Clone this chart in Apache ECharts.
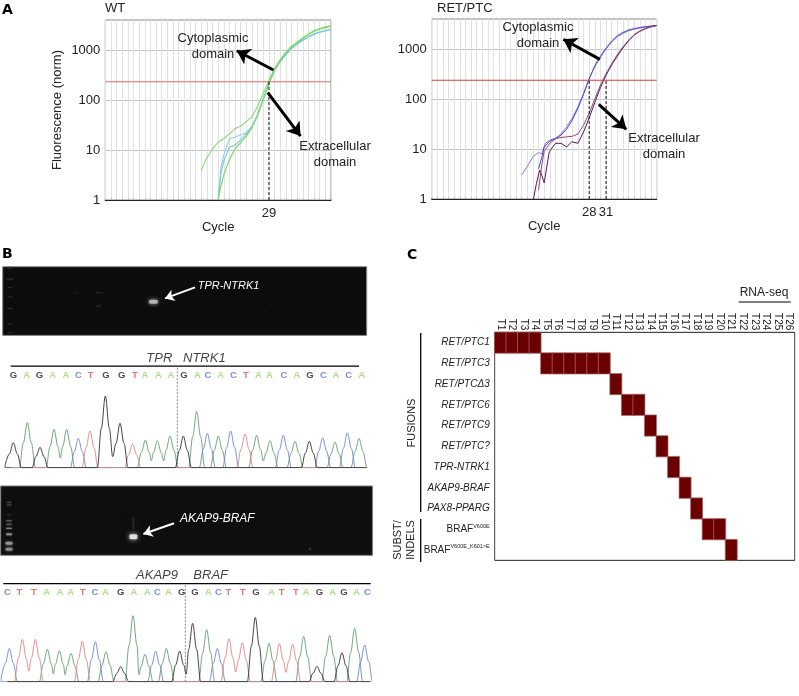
<!DOCTYPE html>
<html><head><meta charset="utf-8">
<style>html,body{margin:0;padding:0;background:#fff}#c{width:799px;height:696px}</style>
<script src="https://cdn.jsdelivr.net/npm/echarts@6/dist/echarts.min.js"></script>
</head><body><div id="c"></div>
<script>
// ---- Panel A data
const wtCyclesEarly=[17,18,19,20,21,22,23,24,25,26,27,28,29,30,31,32,33,34,35,36,37,38,39,40];
const wtGreenUpper=[3.9,7,10.5,14.3,17,21,27,30,37,46,75,135,250,420,640,900,1200,1350,1700,2100,2450,2700,2900,3050];
const wtCyclesLow=[20,20.4,21,22,23,24,25,26,27,28,29,30,31,32,33,34,35,36,37,38,39,40];
const wtGreenLower=[1,1.7,3.2,6.5,10.5,14,19,28,50,105,210,400,620,880,1150,1450,1750,2050,2350,2600,2800,3000];
const wtCyclesBlue=[20,20.5,21,22,23,24,25,26,27,28,29,30,31,32,33,34,35,36,37,38,39,40];
const wtBlueA=[1,4.5,8,17,18,20,22,30,50,100,215,390,580,800,1050,1300,1550,1800,2050,2250,2400,2550];
const wtBlueB=[1,3.5,6,11.5,12.5,16,21,29,52,105,220,400,600,830,1080,1340,1600,1850,2100,2300,2450,2600];
const wtThreshold=232, wtCt=[29];
const retCyclesA=[16,17,18,19,19.6,20.2,21,22,23,24,25,26,27,28,29,30,31,32,33,34,35,36,37,38,39,40];
const retBlueA=[3,4.5,7,8.5,8,13,15,16.5,20,28,42,70,130,260,440,680,1000,1350,1750,2050,2300,2480,2620,2750,2850,2950];
const retCyclesB=[19,19.6,20,21,22,23,24,25,26,27,28,29,30,31,32,33,34,35,36,37,38,39,40];
const retBlueB=[4,7,11,14.5,16,19,25,38,65,125,250,470,720,1050,1450,1850,2150,2400,2560,2700,2800,2880,2950];
const retCyclesC=[18.1,18.6,19.2,19.6,20,20.9,22,23,24,24.9,26,27,28,29,30,31,32,33,34,35,36,37,38,39,40];
const retPurpleA=[1,2,3.8,2.9,2.1,8.8,13,13,11,14,13,22,42,85,170,300,480,720,1050,1450,1900,2250,2550,2780,2950];
const retCyclesD=[19,19.6,20,21,22,23,24,25,26,27,28,29,30,31,32,33,34,35,36,37,38,39,40];
const retPurpleB=[1.5,5,9,13,16,17,17.5,18,20,30,52,100,190,320,510,770,1100,1500,1950,2300,2600,2800,2950];
const retThreshold=237, retCt=[28,31];
// ---- Panel B data
const gel1BandX=[30,30,30,30,30,30,30,230,297,295,815,460];
const gel1BandY=[55,88,112,140,175,222,248,128,128,168,165,155];
const gel1BandW=[6,7,6,6,6,6,6,5,8,6,6,9];
const gel1BandH=[1,1,1,1,1,1,1,1,1,2,1,4];
const gel1BandC=['#2c2c2c','#333','#2c2c2c','#2c2c2c','#303030','#2c2c2c','#282828','#1c1c1c','#2a2a2a','#222','#191919','#c8c8c8'];
const gel2BandX=[27,27,27,27,27,27,27,27,27,400,400,930];
const gel2BandY=[67,75,105,122,133,145,163,190,208,170,130,207];
const gel2BandW=[5,5,4,6,6,6,6,7,7,8,2,1];
const gel2BandH=[1,1,1,1,1,1,2,3,3,5,12,1];
const gel2BandC=['#555','#555','#333','#777','#777','#aaa','#999','#a5a5a5','#999','#ffffff','#2c2c2c','#aaa'];
const seq1=['G','A','G','A','A','C','T','G','G','T','A','A','A','G','A','C','A','C','T','A','A','C','A','G','C','A','C','A'];
const seq1LetterX=[40,80,118,158,198,235,272,318,365,405,435,475,513,552,592,624,662,700,738,775,808,852,890,930,970,1008,1046,1085];
const seq1PeakX=[40,82,120,162,200,235,270,316,360,398,436,472,510,550,590,622,655,692,735,770,810,850,885,928,968,1005,1042,1077];
const seq1PeakH=[75,136,61,115,115,88,110,215,133,71,83,81,95,95,169,103,95,110,101,97,81,97,79,79,90,77,105,88];
const seq2=['C','T','T','A','A','A','T','C','A','G','A','A','C','A','G','G','A','C','T','T','G','A','T','T','A','G','A','G','A','C'];
const seq2LetterX=[22,58,102,140,180,212,248,285,316,362,402,442,472,505,545,585,625,655,685,728,768,815,845,888,918,958,998,1032,1070,1102];
const seq2PeakX=[28,67,106,142,178,213,247,286,318,362,399,435,467,499,539,578,620,652,687,727,766,807,838,878,911,951,989,1026,1064,1094];
const seq2PeakH=[100,127,127,97,93,85,121,120,90,45,198,82,91,100,92,175,156,100,129,117,193,115,114,112,136,46,139,87,160,110];
// ---- Panel C data
const tumours=[];for(let i=1;i<=26;i++)tumours.push('T'+i);
const rowNames=['RET/PTC1','RET/PTC3','RET/PTCΔ3','RET/PTC6','RET/PTC9','RET/PTC?','TPR-NTRK1','AKAP9-BRAF','PAX8-PPARG','BRAF^V600E','BRAF^V600E_K601>E'];
const rowTumours=[[1,2,3,4],[5,6,7,8,9,10],[11],[12,13],[14],[15],[16],[17],[18],[19,20],[21]];

const FONT='"Liberation Sans",Arial,sans-serif';
const zip=(a,b)=>a.map((v,i)=>[v,b[i]]);
function peaks(seq,xs,hs,base,xMin,xMax){
  const w=24,pts=[[xMin,0]];let last=null;
  seq.forEach((s,i)=>{ if(s!==base)return;
    const x=xs[i],h=hs[i];
    if(last!==null&&x-xs[last]<48){pts.push([(x+xs[last])/2,Math.min(h,hs[last])*0.25]);}
    else{pts.push([x-w,0]);}
    pts.push([x-w*.5,h*.55],[x,h],[x+w*.5,h*.55]);
    const nextSame=seq[i+1]===base&&xs[i+1]-x<48;
    if(!nextSame)pts.push([x+w,0]);
    last=i;
  });
  pts.push([xMax,0]);return pts;
}
const traceColor={A:'#5e9f6c',C:'#6f86d6',G:'#2e2e2e',T:'#e08585'};
const letterColor={A:'#9ad76c',C:'#5a6fd0',G:'#222',T:'#e0524f'};
const grids=[
 {left:105.3,top:20,width:225.7,height:180,show:true,borderColor:'#888',backgroundColor:'#fff'},
 {left:431.7,top:19,width:225,height:180,show:true,borderColor:'#888',backgroundColor:'#fff'},
 {left:2.7,top:266.7,width:364,height:68.7,show:true,backgroundColor:'#0c0c0c',borderColor:'#888'},
 {left:0,top:346.7,width:370,height:121},
 {left:0.7,top:486,width:371.7,height:69.3,show:true,backgroundColor:'#0e0e0e',borderColor:'#777'},
 {left:0,top:561.7,width:371,height:120},
 {left:494.7,top:332.3,width:300,height:228,show:true,borderColor:'#444',borderWidth:1}
];
function ctX(i,labels,name){return {gridIndex:i,type:'value',min:0,max:40,interval:1,
  name:name,nameLocation:'middle',nameGap:17,nameTextStyle:{fontFamily:FONT,fontSize:13,color:'#222'},
  axisLine:{show:true,lineStyle:{color:'#222',width:1.2}},
  axisTick:{show:true,inside:true,length:2,lineStyle:{color:'#bbb'}},
  axisLabel:{customValues:labels,fontFamily:FONT,fontSize:13,color:'#222',margin:7},
  splitLine:{show:true,lineStyle:{color:'#e0e3e3',width:1}}};}
function ctY(i,name){return {gridIndex:i,type:'log',logBase:10,min:1,max:3981,
  name:name,nameLocation:'middle',nameGap:41,nameTextStyle:{fontFamily:FONT,fontSize:13,color:'#222'},
  axisLine:{show:false},axisTick:{show:false},
  axisLabel:{customValues:[1,10,100,1000],formatter:v=>String(Math.round(v)),fontFamily:FONT,fontSize:13,color:'#222',margin:5},
  splitLine:{show:true,lineStyle:{color:'#c0c6c6',width:1}}};}
const plainX=(i,a,b)=>({gridIndex:i,type:'value',min:a,max:b,show:false,splitLine:{show:false}});
const plainY=(i,a,b,inv)=>({gridIndex:i,type:'value',min:a,max:b,inverse:!!inv,show:false,splitLine:{show:false}});
const xAxes=[ctX(0,wtCt,'Cycle'),ctX(1,retCt,'Cycle'),plainX(2,8,1100),plainX(3,0,1110),plainX(4,2,1117),plainX(5,0,1113),
 {gridIndex:6,type:'category',position:'top',data:tumours,axisLine:{show:false},axisTick:{show:false},
  axisLabel:{interval:0,rotate:90,margin:2,fontFamily:FONT,fontSize:10,color:'#222'},splitLine:{show:false}}];
const rowFmt=v=>{
  if(v.indexOf('^')>=0){const p=v.split('^');return '{n|'+p[0]+'}{s|'+p[1]+'}';}
  return '{i|'+v+'}';};
const yAxes=[ctY(0,'Fluorescence (norm)'),ctY(1,''),plainY(2,50,256,true),plainY(3,0,363),plainY(4,18,226,true),plainY(5,0,360),
 {gridIndex:6,type:'category',inverse:true,data:rowNames,axisLine:{show:false},axisTick:{show:false},
  axisLabel:{interval:0,margin:5,formatter:rowFmt,rich:{
    i:{fontFamily:FONT,fontStyle:'italic',fontSize:10,color:'#222'},
    n:{fontFamily:FONT,fontSize:10,color:'#222'},
    s:{fontFamily:FONT,fontSize:5.5,color:'#222',padding:[0,0,6,0]}}},
  splitLine:{show:true,interval:(i)=>i===9,lineStyle:{color:'#444',width:1}}}];
const arrow=(a,b,c,w)=>({symbol:['none','arrow'],symbolSize:w>2.5?13:9,silent:true,animation:false,
  label:{show:false},emphasis:{disabled:true},
  lineStyle:{color:c,width:w,type:'solid'},data:[[{coord:a},{coord:b}]]});
const ln=(g,data,color,width,extra)=>Object.assign({type:'line',xAxisIndex:g,yAxisIndex:g,data,symbol:'none',silent:true,animation:false,
  lineStyle:{color,width}},extra||{});
const series=[];
series.push(ln(0,zip(wtCyclesEarly,wtGreenUpper),'#84d96c',1.1));
series.push(ln(0,zip(wtCyclesBlue,wtBlueA),'#8ed0e2',1.1,{}));
series.push(ln(0,zip(wtCyclesBlue,wtBlueB),'#7cc8da',1.1));
series.push(ln(0,zip(wtCyclesLow,wtGreenLower),'#7ed866',1.2));
series.push(ln(0,[[0,wtThreshold],[40,wtThreshold]],'#e2675f',1.2));
series.push(ln(0,[[wtCt[0],1],[wtCt[0],wtThreshold]],'#111',1,{lineStyle:{color:'#111',width:1,type:[3,2]}}));
series.push(ln(0,[],'#000',1,{markLine:arrow([29.8,398],[23.3,968],'#000',3)}));
series.push(ln(0,[],'#000',1,{markLine:arrow([28.8,140],[34.6,19],'#000',3)}));
series.push(ln(1,zip(retCyclesA,retBlueA),'#8c7be0',1));
series.push(ln(1,zip(retCyclesB,retBlueB),'#4a49c8',1));
series.push(ln(1,zip(retCyclesC,retPurpleA),'#561a55',1));
series.push(ln(1,zip(retCyclesD,retPurpleB),'#93477c',1));
series.push(ln(1,[[0,retThreshold],[40,retThreshold]],'#e03a36',1.2));
retCt.forEach(c=>series.push(ln(1,[[c,1],[c,retThreshold]],'#111',1,{lineStyle:{color:'#111',width:1,type:[3,2]}})));
series.push(ln(1,[],'#000',1,{markLine:arrow([29.9,622],[23.4,1563],'#000',3)}));
series.push(ln(1,[],'#000',1,{markLine:arrow([29.7,78],[34.6,24.8],'#000',3)}));
function gelBands(g,xs,ys,ws,hs,cs){
  series.push({type:'scatter',xAxisIndex:g,yAxisIndex:g,silent:true,animation:false,symbol:'roundRect',
    data:xs.map((x,i)=>({value:[x,ys[i]],symbolSize:[ws[i],hs[i]],
      itemStyle:{color:cs[i],shadowBlur:Math.max(2,hs[i]),shadowColor:cs[i]}}))});
}
gelBands(2,gel1BandX,gel1BandY,gel1BandW,gel1BandH,gel1BandC);
gelBands(4,gel2BandX,gel2BandY,gel2BandW,gel2BandH,gel2BandC);
series.push(ln(2,[],'#fff',1,{markLine:arrow([585,112],[495,145],'#fff',2)}));
series.push(ln(4,[],'#fff',1,{markLine:arrow([522,130],[430,162],'#fff',2)}));
function chrom(g,seq,lx,px,ph,xMin,xMax,letterH,over,titles,dash){
  ['A','C','T','G'].forEach(b=>series.push(ln(g,peaks(seq,px,ph,b,xMin,xMax),traceColor[b],0.9,{smooth:0.35,smoothMonotone:'x'})));
  series.push({type:'scatter',xAxisIndex:g,yAxisIndex:g,silent:true,animation:false,symbolSize:1,itemStyle:{color:'rgba(0,0,0,0)'},
    data:seq.map((s,i)=>({value:[lx[i],letterH],label:{show:true,position:'inside',formatter:s,color:letterColor[s],
       fontFamily:FONT,fontSize:9.5,fontWeight:'bold'}}))});
  series.push({type:'scatter',xAxisIndex:g,yAxisIndex:g,silent:true,animation:false,symbolSize:1,itemStyle:{color:'rgba(0,0,0,0)'},
    data:titles.map(t=>({value:[t[1],t[2]],label:{show:true,position:'inside',formatter:t[0],color:'#111',fontFamily:FONT,fontStyle:'italic',fontSize:t[3]}}))});
  series.push(ln(g,[[over[0],over[2]],[over[1],over[2]]],'#000',1.3));
  series.push(ln(g,[[dash,0],[dash,over[2]]],'#555',0.7,{lineStyle:{color:'#555',width:0.7,type:[2,1.5]}}));
}
chrom(3,seq1,seq1LetterX,seq1PeakX,seq1PeakH,32,1100,278,[32,1077,305],[['TPR',478,328,13],['NTRK1',613,328,13]],532);
chrom(5,seq2,seq2LetterX,seq2PeakX,seq2PeakH,22,1110,267,[10,1112,294],[['AKAP9',471,320,13],['BRAF',632,320,13]],556);
const heat=[];rowTumours.forEach((ts,r)=>ts.forEach(t=>heat.push([t-1,r,1])));
series.push({type:'heatmap',xAxisIndex:6,yAxisIndex:6,silent:true,animation:false,data:heat,
  itemStyle:{color:'#6a0000',borderColor:'#a96a6a',borderWidth:0.7},progressive:0});
const t=(x,y,text,o)=>({type:'text',x,y,silent:true,z:50,style:Object.assign({text,fill:'#222',fontFamily:FONT,fontSize:13,align:'center',verticalAlign:'middle',lineHeight:16},o||{})});
const rt=(x,y,text,o)=>({type:'text',x,y,rotation:Math.PI/2,silent:true,z:50,style:Object.assign({text,fill:'#222',fontFamily:FONT,fontSize:11,align:'center',verticalAlign:'middle'},o||{})});
const l=(x1,y1,x2,y2,w)=>({type:'line',silent:true,z:50,shape:{x1,y1,x2,y2},style:{stroke:'#000',lineWidth:w||1.3}});
const big={fontFamily:'"DejaVu Sans",sans-serif',fontWeight:'bold',fontSize:14,fill:'#000',align:'left'};
const graphic=[
 t(2,10,'A',big),
 t(2,254,'B',big),
 t(407,255,'C',big),
 t(105,8,'WT',{align:'left'}),t(437,8,'RET/PTC',{align:'left'}),
 t(213,46,'Cytoplasmic\ndomain'),t(335,154,'Extracellular\ndomain'),
 t(538,35,'Cytoplasmic\ndomain'),t(664,146,'Extracellular\ndomain'),
 t(197.7,286,'TPR-NTRK1',{align:'left',fill:'#fff',fontSize:11,fontStyle:'italic'}),
 t(180,518.5,'AKAP9-BRAF',{align:'left',fill:'#fff',fontSize:12,fontStyle:'italic'}),
 t(764,293,'RNA-seq',{fontSize:12}),
 l(738.7,302,790.7,302,1),
 l(420.7,333,420.7,512),l(420.7,519,420.7,562),
 rt(411.5,423,'FUSIONS'),
 rt(398,540,'SUBST/'),rt(411,540,'INDELS')
];
const chart=echarts.init(document.getElementById('c'),null,{renderer:'canvas'});
chart.setOption({animation:false,backgroundColor:'#fff',grid:grids,xAxis:xAxes,yAxis:yAxes,series,graphic,tooltip:{show:false}});
</script></body></html>
